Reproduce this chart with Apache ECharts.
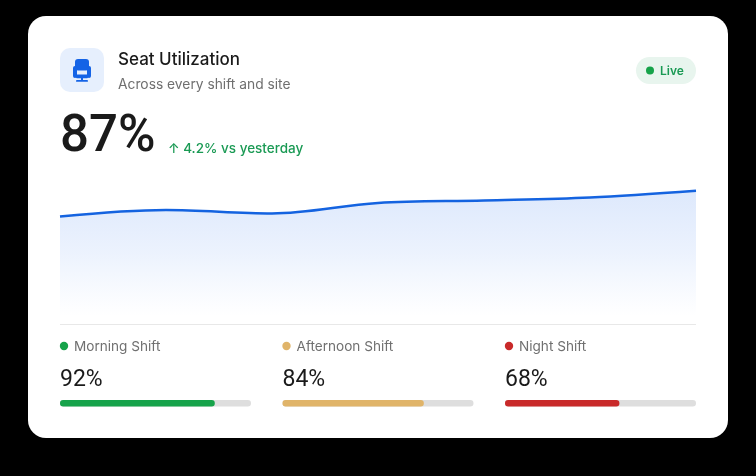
<!DOCTYPE html>
<html>
<head>
<meta charset="utf-8">
<style>html,body{margin:0;padding:0;background:#000}#c{width:756px;height:476px}</style>
<script src="https://cdn.jsdelivr.net/npm/echarts@6/dist/echarts.min.js"></script>
</head>
<body>
<div id="c"></div>
<script>
const trendCategories = ['Mon','Tue','Wed','Thu','Fri','Sat','Sun'];
const trendValues = [69.1, 73.6, 71.2, 78.5, 80.2, 82.3, 87];
const shiftNames = ['Morning Shift','Afternoon Shift','Night Shift'];
const shiftValues = [92, 84, 68];
const shiftColors = ['#16a34a','#e0b469','#c92a2a'];
const barScaleMax = 113.5;
const titleText = 'Seat Utilization';
const subtitleText = 'Across every shift and site';
const bigValue = '87%';
const deltaText = '↑ 4.2% vs yesterday';
const liveText = 'Live';

const FONT = 'Inter, "Noto Sans", sans-serif';
const NUM = 'Roboto, Inter, sans-serif';
const blue = '#1463e0';
const colX = [60, 282.5, 505];
const colW = 191;

function txt(x, y, text, size, fill, weight, family) {
  return {type:'text', x, y, silent:true, style:{
    text, fontSize:size, fill, fontWeight:weight||400, fontFamily:family||FONT,
    verticalAlign:'middle'
  }};
}
function rr(x,y,w,h,r,fill){
  return {type:'rect', silent:true, shape:{x,y,width:w,height:h,r}, style:{fill}};
}

const g = [];
g.push(rr(28,16,700,422,18,'#ffffff'));
// icon tile + seat
g.push(rr(60,48,44,44,10,'#e6effd'));
g.push(rr(75,59,14,11.5,3,'#1463e6'));
g.push(rr(73,66,4,12,2,'#1463e6'));
g.push(rr(87,66,4,12,2,'#1463e6'));
g.push(rr(76,74.5,12,3.8,1,'#1463e6'));
g.push(rr(81,78,2,3,0,'#1463e6'));
g.push(rr(76,80,12,1.8,0.9,'#1463e6'));
// header
g.push(txt(118,60,titleText,17,'#1a1a1a',500));
g.push(txt(118,85,subtitleText,13.8,'#6f6f6f',400));
g.push(rr(636,57,60,27,13.5,'#e8f5ee'));
g.push({type:'circle', silent:true, shape:{cx:650,cy:70.5,r:4}, style:{fill:'#16a34a'}});
g.push(txt(660,71,liveText,12,'#1a9a54',600));
g.push(txt(60,138,bigValue,51,'#1a1a1a',500,NUM));
g.push(txt(168,149,deltaText,13.5,'#1a9a54',500));
// divider
g.push(rr(60,324,636,1,0,'#e8e8e8'));
// shift labels
shiftNames.forEach((n,i)=>{
  g.push({type:'circle', silent:true, shape:{cx:colX[i]+4,cy:346,r:4.2}, style:{fill:shiftColors[i]}});
  g.push(txt(colX[i]+14,347,n,13.6,'#707070',400));
  g.push(txt(colX[i],380,shiftValues[i]+'%',23,'#1a1a1a',400,NUM));
});

const grids = [{left:60, width:636, top:172, height:144}];
const xAxes = [{type:'category', gridIndex:0, data:trendCategories, boundaryGap:false, show:false}];
const yAxes = [{type:'value', gridIndex:0, min:0, max:100, show:false}];
const series = [{
  type:'line', xAxisIndex:0, yAxisIndex:0, data:trendValues, smooth:0.35, symbol:'none',
  lineStyle:{color:blue, width:2.5},
  areaStyle:{color:{type:'linear',x:0,y:0,x2:0,y2:1,colorStops:[
    {offset:0,color:'#cfdffb'},{offset:0.5,color:'#e4edfd'},{offset:1,color:'rgba(255,255,255,0.9)'}]}},
  z:2
}];
shiftNames.forEach((n,i)=>{
  const k=i+1;
  grids.push({left:colX[i], width:colW, top:400, height:6.4});
  xAxes.push({type:'value', gridIndex:k, min:0, max:barScaleMax, show:false});
  yAxes.push({type:'category', gridIndex:k, data:[n], show:false});
  series.push({
    type:'bar', name:n, xAxisIndex:k, yAxisIndex:k, data:[shiftValues[i]],
    barWidth:6.4, showBackground:true,
    backgroundStyle:{color:'#dedede', borderRadius:3.2},
    itemStyle:{color:shiftColors[i], borderRadius:3.2},
    silent:true, z:2
  });
});

const chart = echarts.init(document.getElementById('c'), null, {renderer:'canvas'});
chart.setOption({
  backgroundColor:'#000000',
  animation:false,
  tooltip:{show:false},
  legend:{show:false},
  graphic:{elements:g.map(e=>Object.assign(e,{z:-1,zlevel:0}))},
  grid:grids, xAxis:xAxes, yAxis:yAxes, series
});
</script>
</body>
</html>
